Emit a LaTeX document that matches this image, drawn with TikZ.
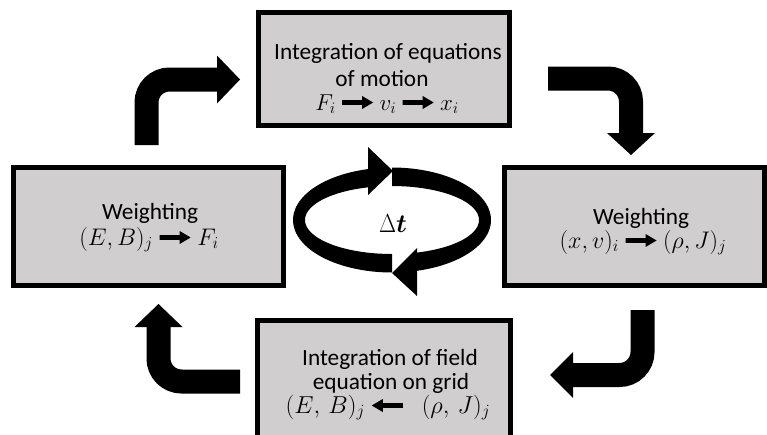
\RequirePackage{fix-cm}
\documentclass[tikz,border=0pt]{standalone}
\usepackage{amsmath,bm}
\usepackage{graphicx}
\usepackage{fontspec}
\setmainfont{Carlito}
\definecolor{boxgray}{RGB}{208,206,206}
\newcommand\RA{\mathrel{\tikz[x=1pt,y=1pt,baseline=0pt]\fill (0,5.2)--(20,5.2)--(20,1)--(31,7.5)--(20,14)--(20,9.8)--(0,9.8)--cycle;}}
\newcommand\LA{\mathrel{\tikz[x=1pt,y=1pt,baseline=0pt]\fill (31,5.2)--(11,5.2)--(11,1)--(0,7.5)--(11,14)--(11,9.8)--(31,9.8)--cycle;}}
\tikzset{
  box/.style={draw=black, line width=5pt, fill=boxgray, inner sep=0pt},
  txt/.style={anchor=base, inner sep=0pt, font=\fontsize{#1}{#1}\selectfont},
  txt/.default=23.3,
  shaft/.style={line width=24pt, rounded corners=23pt},
  headfill/.style={fill=black},
}
\begin{document}
\begin{tikzpicture}[x=1pt,y=-1pt]
\path[use as bounding box] (0,0) rectangle (767,434);
\clip (0,0) rectangle (767,434);
% boxes
\node[box, minimum width=251pt, minimum height=113pt] (motion) at (384,69) {};
\node[box, minimum width=270pt, minimum height=118pt] (wleft) at (148.5,226.5) {};
\node[box, minimum width=260pt, minimum height=118pt] (wright) at (634.5,226.5) {};
\node[box, minimum width=253pt, minimum height=127pt] (field) at (384,384) {};
% texts
\node[txt] (t1) at (388,59) {Integration of equations};
\node[txt] (t2) at (382,86) {of motion};
\node[txt=23] (t3) at (387,110) {$F_i \RA v_i \RA x_i$};
\node[txt] (l1) at (150,219) {Weighting};
\node[txt=24] (l2) at (149,245) {$(E,B)_j \RA F_i$};
\node[txt] (r1) at (641,224) {Weighting};
\node[txt=24] (r2) at (643,248) {$(x,v)_i \RA (\rho,J)_j$};
\node[txt] (b1) at (390,365) {Integration of field};
\node[txt] (b2) at (391,389) {equation on grid};
\node[txt=24.5] (b3) at (388,413) {$(E,\,B)_j \LA\enspace (\rho,\,J)_j$};
% corner arrows
\coordinate (a1s) at (146.5,145); \coordinate (a1e) at (218,79.5);
\draw[shaft] (a1s) |- (a1e);
\fill[headfill] (a1e) ++(-1,-24) -- ++(23,24) -- ++(-23,24) -- cycle;
\coordinate (a2s) at (548,78.5); \coordinate (a2e) at (631,134);
\draw[shaft] (a2s) -| (a2e);
\fill[headfill] (a2e) ++(-24,-1) -- ++(24,22) -- ++(24,-22) -- cycle;
\coordinate (a3s) at (642.5,310); \coordinate (a3e) at (572,375);
\draw[shaft] (a3s) |- (a3e);
\fill[headfill] (a3e) ++(1,-23) -- ++(-23,23) -- ++(23,23) -- cycle;
\coordinate (a4s) at (240,381.5); \coordinate (a4e) at (158.5,326);
\draw[shaft] (a4s) -| (a4e);
\fill[headfill] (a4e) ++(-24,1) -- ++(24,-23) -- ++(24,23) -- cycle;
% central cycle
\fill plot[domain=90:256, samples=60] ({392+99*cos(\x)},{220+52.5*sin(\x)})
  -- plot[domain=256:90, samples=60] ({392+87*cos(\x)},{220+34*sin(\x)}) -- cycle;
\fill (368,147) -- (393,171) -- (368,195) -- cycle;
\fill plot[domain=270:436, samples=60] ({392+99*cos(\x)},{220+52.5*sin(\x)})
  -- plot[domain=436:270, samples=60] ({392+87*cos(\x)},{220+34*sin(\x)}) -- cycle;
\fill (417,248) -- (392,273) -- (417,296) -- cycle;
\node[anchor=base, inner sep=0pt, font=\fontsize{26}{30}\selectfont] (dt) at (393,232) {\scalebox{0.85}[1]{$\Delta$}$\bm{t}$};
\end{tikzpicture}
\end{document}
